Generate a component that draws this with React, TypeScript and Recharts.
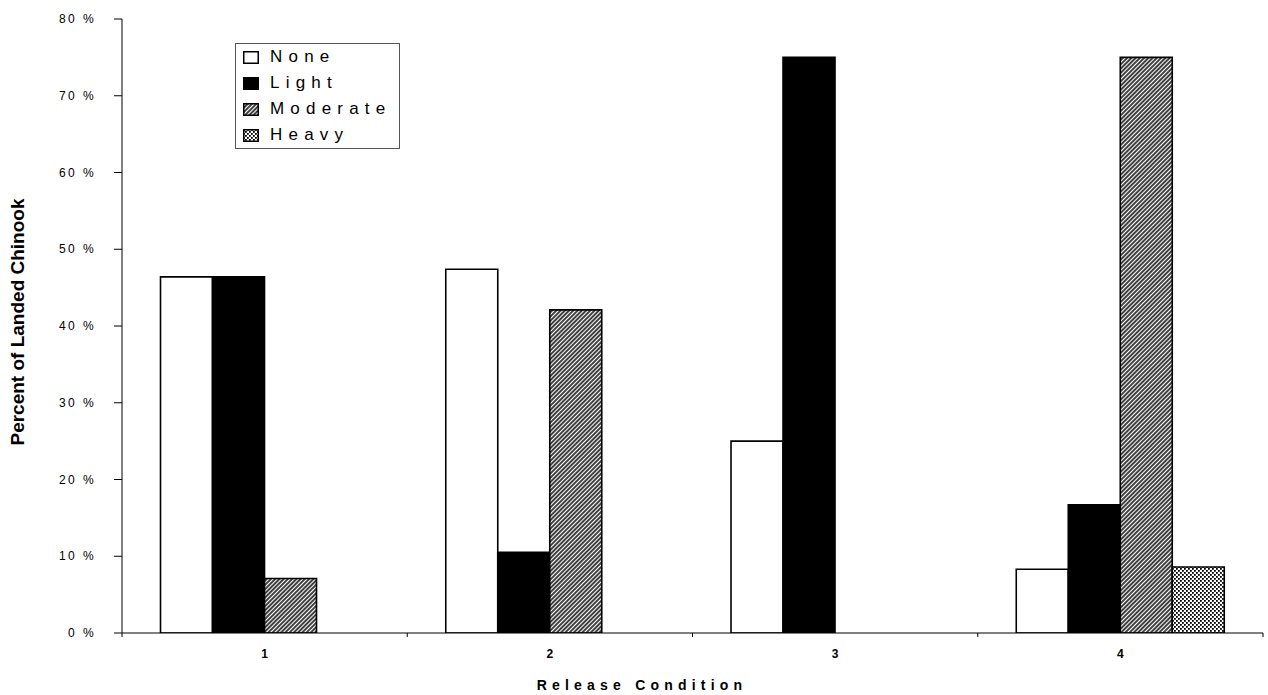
import React from 'react';
import { BarChart, Bar, XAxis, YAxis, Legend, Label } from 'recharts';

// Release condition categories and the share of landed Chinook in each injury class (%)
const categories = ['1', '2', '3', '4'];
const noneValues = [46.4, 47.4, 25.0, 8.3];
const lightValues = [46.4, 10.5, 75.0, 16.7];
const moderateValues = [7.1, 42.1, 0, 75.0];
const heavyValues = [0, 0, 0, 8.6];
const yTicks = [0, 10, 20, 30, 40, 50, 60, 70, 80];

const seriesNames = ['None', 'Light', 'Moderate', 'Heavy'];

const data = categories.map((c, i) => ({
  condition: c,
  None: noneValues[i],
  Light: lightValues[i],
  Moderate: moderateValues[i],
  Heavy: heavyValues[i],
}));

const FONT = 'Arial, "Liberation Sans", Helvetica, sans-serif';

const fills: Record<string, string> = {
  None: '#ffffff',
  Light: '#000000',
  Moderate: 'url(#hatchModerate)',
  Heavy: 'url(#dotsHeavy)',
};

const CategoryTick = (props: any) => {
  const { x, y, payload, index } = props;
  const half = payload && payload.offset ? payload.offset : 0;
  const axisY = y - 16;
  const isLast = index === categories.length - 1;
  return (
    <g>
      <line x1={x - half} x2={x - half} y1={axisY} y2={axisY + 4} stroke="#000" strokeWidth={1} />
      {isLast && (
        <line x1={x + half} x2={x + half} y1={axisY} y2={axisY + 4} stroke="#000" strokeWidth={1} />
      )}
      <text
        x={x}
        y={y + 9}
        textAnchor="middle"
        fontFamily={FONT}
        fontSize={12}
        fontWeight="bold"
        fill="#000"
      >
        {payload.value}
      </text>
    </g>
  );
};

const YTick = (props: any) => {
  const { x, y, payload } = props;
  return (
    <text
      x={x}
      y={y + 4}
      textAnchor="end"
      fontFamily={FONT}
      fontSize={12}
      letterSpacing={2.4}
      fill="#000"
    >
      {`${payload.value} %`}
    </text>
  );
};

const LegendBox = () => (
  <div
    style={{
      width: 163,
      height: 104,
      border: '1px solid #555',
      background: '#fff',
      fontFamily: FONT,
      fontSize: 17,
      color: '#000',
      boxSizing: 'content-box',
    }}
  >
    {seriesNames.map((name) => (
      <div
        key={name}
        style={{ height: 26, display: 'flex', alignItems: 'center', paddingLeft: 7 }}
      >
        <svg width={16} height={13} style={{ display: 'block' }}>
          <rect
            x={0.75}
            y={0.75}
            width={14.5}
            height={11.5}
            fill={fills[name]}
            stroke="#000"
            strokeWidth={1.5}
          />
        </svg>
        <span style={{ marginLeft: 11, letterSpacing: 6.2, lineHeight: '26px' }}>{name}</span>
      </div>
    ))}
  </div>
);

export default function App() {
  return (
    <div style={{ position: 'absolute', left: 0, top: 0, background: '#fff' }}>
      <BarChart
        width={1268}
        height={695}
        data={data}
        margin={{ top: 19, right: 5, bottom: 0, left: 0 }}
        barCategoryGap="13.5%"
        barGap={0}
      >
        <defs>
          <pattern
            id="hatchModerate"
            patternUnits="userSpaceOnUse"
            width={3}
            height={10}
            patternTransform="rotate(45)"
          >
            <rect x={0} y={0} width={3} height={10} fill="#fff" />
            <line x1={1} y1={0} x2={1} y2={10} stroke="#000" strokeWidth={1.5} />
          </pattern>
          <pattern id="dotsHeavy" patternUnits="userSpaceOnUse" width={4} height={4}>
            <rect x={0} y={0} width={4} height={4} fill="#fff" />
            <rect x={0} y={0} width={1.8} height={1.8} fill="#000" />
            <rect x={2} y={2} width={1.8} height={1.8} fill="#000" />
          </pattern>
        </defs>
        <XAxis
          dataKey="condition"
          height={62}
          tickLine={false}
          tickSize={4}
          tickMargin={12}
          axisLine={{ stroke: '#000', strokeWidth: 1 }}
          tick={<CategoryTick />}
          interval={0}
        >
          <Label
            content={(p: any) => {
              const vb = p.viewBox || { x: 122, y: 633, width: 1141, height: 62 };
              return (
                <text
                  x={vb.x + 520}
                  y={vb.y + 57}
                  textAnchor="middle"
                  fontFamily={FONT}
                  fontSize={14}
                  fontWeight="bold"
                  letterSpacing={5.2}
                  fill="#000"
                >
                  Release Condition
                </text>
              );
            }}
          />
        </XAxis>
        <YAxis
          width={122}
          domain={[0, 80]}
          ticks={yTicks}
          interval={0}
          allowDataOverflow
          tickSize={8}
          tickMargin={18}
          tickLine={{ stroke: '#000', strokeWidth: 1 }}
          axisLine={{ stroke: '#000', strokeWidth: 1 }}
          tick={<YTick />}
        >
          <Label
            content={(p: any) => {
              const vb = p.viewBox || { x: 0, y: 19, width: 122, height: 614 };
              const cx = 24;
              const cy = vb.y + vb.height / 2 - 4;
              return (
                <text
                  x={cx}
                  y={cy}
                  transform={`rotate(-90 ${cx} ${cy})`}
                  textAnchor="middle"
                  fontFamily={FONT}
                  fontSize={19}
                  fontWeight="bold"
                  fill="#000"
                >
                  Percent of Landed Chinook
                </text>
              );
            }}
          />
        </YAxis>
        <Legend
          layout="horizontal"
          verticalAlign="middle"
          align="center"
          wrapperStyle={{ left: 235, top: 43, width: 165, height: 106 }}
          content={() => <LegendBox />}
        />
        {seriesNames.map((name) => (
          <Bar
            key={name}
            dataKey={name}
            fill={fills[name]}
            stroke="#000"
            strokeWidth={1.6}
            isAnimationActive={false}
          />
        ))}
      </BarChart>
    </div>
  );
}
